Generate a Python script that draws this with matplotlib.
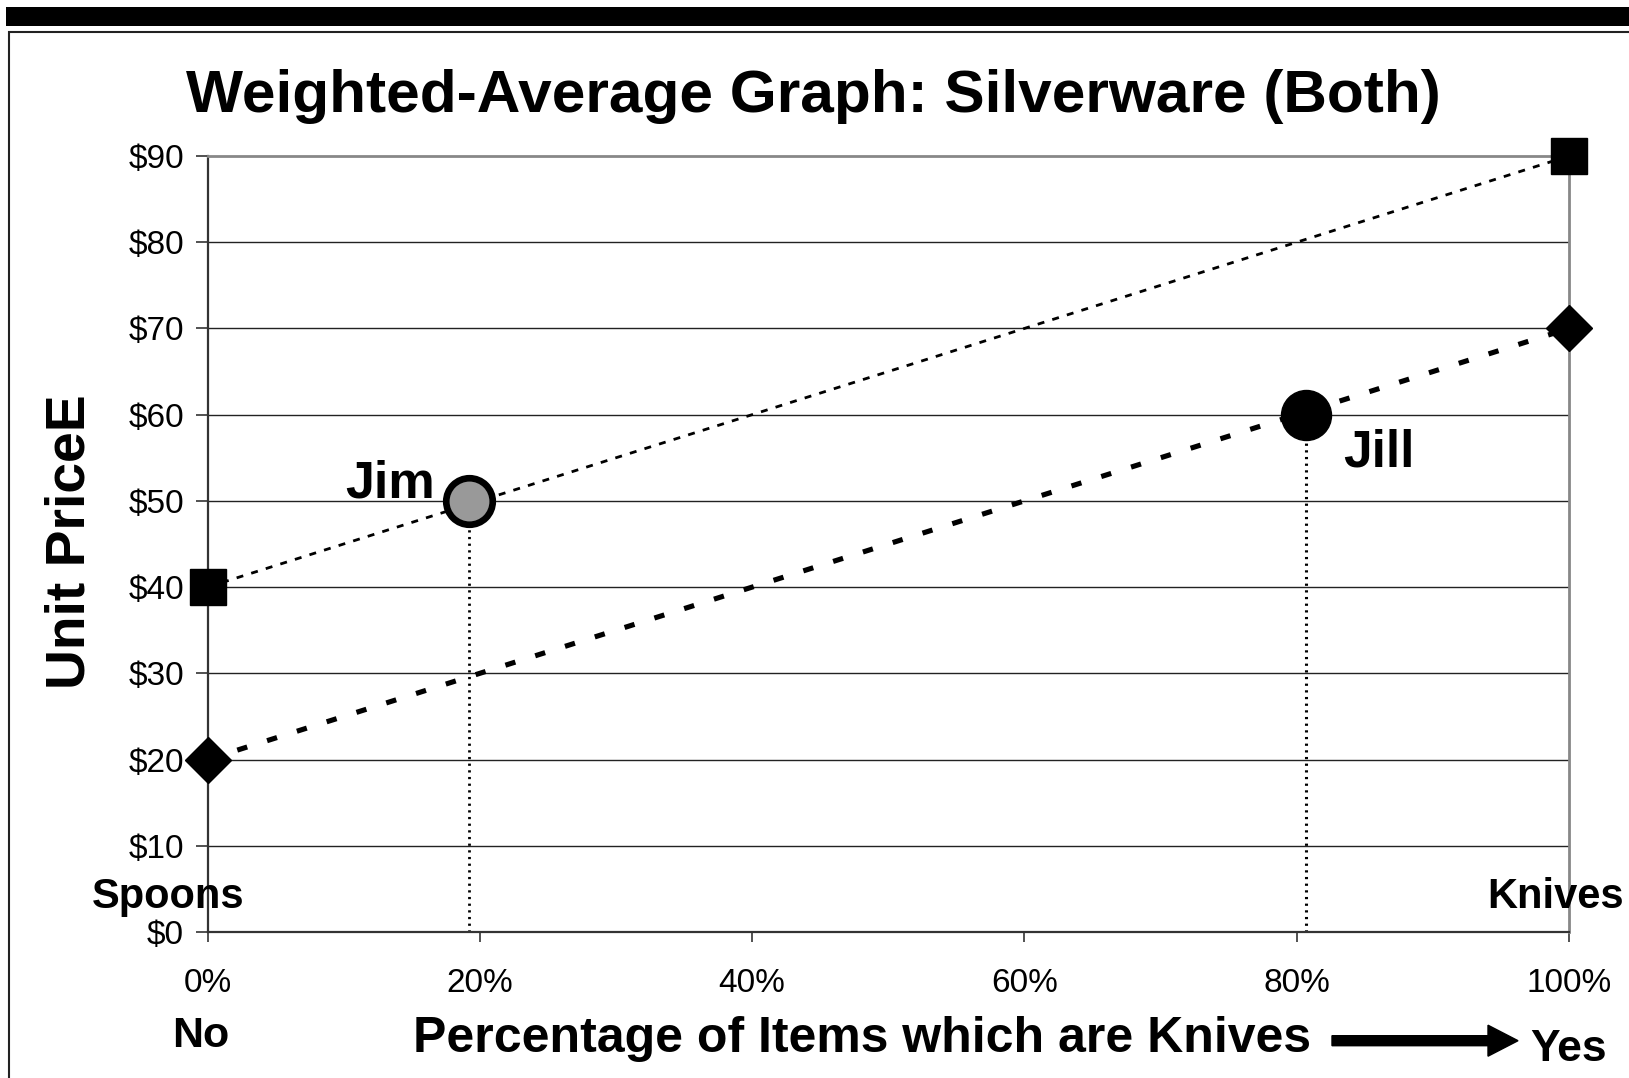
import matplotlib
matplotlib.use("Agg")
import matplotlib.pyplot as plt
from matplotlib.patches import Rectangle, FancyArrow

plt.rcParams['font.family'] = ['Liberation Sans', 'DejaVu Sans']
plt.rcParams['lines.scale_dashes'] = False

# data
pct = [0.0, 1.0]
price_high = [40, 90]    # squares
price_low = [20, 70]     # diamonds
jim = (0.192, 50)
jill = (0.807, 60)
yticks = [0, 10, 20, 30, 40, 50, 60, 70, 80, 90]
ytick_labels = ['$' + str(v) for v in yticks]
xticks = [0, 0.2, 0.4, 0.6, 0.8, 1.0]
xtick_labels = ['0%', '20%', '40%', '60%', '80%', '100%']

W, H = 1629, 1078
fig = plt.figure(figsize=(W / 100, H / 100), dpi=100)

def fx(px):
    return px / W

def fy(py):
    return 1 - py / H

# black bar and frame at the top
fig.patches.append(Rectangle((fx(6), fy(26)), 1.0, (26 - 7) / H, transform=fig.transFigure,
                             facecolor='black', edgecolor='none'))
fig.patches.append(Rectangle((fx(9), -0.05), 1.0, fy(32) + 0.05, transform=fig.transFigure,
                             facecolor='none', edgecolor='#222222', linewidth=1.5))

ax = fig.add_axes([fx(207.5), fy(932), fx(1569) - fx(207.5), fy(156) - fy(932)])
ax.set_xlim(0, 1)
ax.set_ylim(0, 90)

# grid
for v in yticks[1:-1]:
    ax.axhline(v, color='#222222', linewidth=1.0, zorder=1)

ax.plot(pct, price_high, color='black', linewidth=2.0, dashes=(5, 6), zorder=3, clip_on=False)
ax.plot(pct, price_low, color='black', linewidth=3.7, dashes=(7.5, 15), zorder=3, clip_on=False)
ax.plot(pct, price_high, linestyle='none', marker='s', markersize=26, color='black',
        zorder=5, clip_on=False)
ax.plot(pct, price_low, linestyle='none', marker='D', markersize=23, color='black',
        zorder=5, clip_on=False)

# drop lines to the x axis
ax.plot([jim[0], jim[0]], [0, jim[1]], color='black', linewidth=2.0, dashes=(1.6, 3.2), zorder=2)
ax.plot([jill[0], jill[0]], [0, jill[1]], color='black', linewidth=2.2, dashes=(1.6, 3.2), zorder=2)

ax.plot([jim[0]], [jim[1]], marker='o', markersize=33.5, markerfacecolor='#999999',
        markeredgecolor='black', markeredgewidth=4.8, zorder=6, clip_on=False)
ax.plot([jill[0]], [jill[1]], marker='o', markersize=36, color='black', zorder=6, clip_on=False)

ax.set_yticks(yticks)
ax.set_yticklabels(ytick_labels, fontsize=24)
ax.set_xticks(xticks)
ax.set_xticklabels(xtick_labels, fontsize=24)
ax.tick_params(axis='y', length=9, width=1.2, color='#333333', pad=8)
ax.tick_params(axis='x', length=7, width=1.2, color='#333333', pad=19)

for s in ['left', 'bottom']:
    ax.spines[s].set_color('#333333')
    ax.spines[s].set_linewidth(1.6)
for s in ['top', 'right']:
    ax.spines[s].set_color('#888888')
    ax.spines[s].set_linewidth(2.0)

# texts
fig.text(fx(813.5), fy(112), 'Weighted-Average Graph: Silverware (Both)', fontsize=43.5,
         fontweight='bold', ha='center', va='baseline')
fig.text(fx(70.7), fy(542), 'Unit PriceE', fontsize=39.8, fontweight='bold', rotation=90,
         ha='center', va='center')
fig.text(fx(862), fy(1052), 'Percentage of Items which are Knives', fontsize=36,
         fontweight='bold', ha='center', va='baseline')
fig.text(fx(200.5), fy(1047), 'No', fontsize=31, fontweight='bold', ha='center', va='baseline')
fig.text(fx(1569), fy(1061), 'Yes', fontsize=32, fontweight='bold', ha='center', va='baseline')
fig.text(fx(168), fy(908), 'Spoons', fontsize=30, fontweight='bold', ha='center', va='baseline')
fig.text(fx(1624), fy(908), 'Knives', fontsize=30, fontweight='bold', ha='right', va='baseline')
fig.text(fx(345), fy(498), 'Jim', fontsize=37.5, fontweight='bold', ha='left', va='baseline')
fig.text(fx(1343), fy(467), 'Jill', fontsize=37, fontweight='bold', ha='left', va='baseline')

# arrow next to the x label
fig.patches.append(FancyArrow(1332 / 100, (H - 1040.7) / 100, (1518 - 1332) / 100, 0,
                              width=0.10, head_width=0.31, head_length=0.30,
                              length_includes_head=True, color='black',
                              transform=fig.dpi_scale_trans))

fig.savefig('out.png', dpi=100)
